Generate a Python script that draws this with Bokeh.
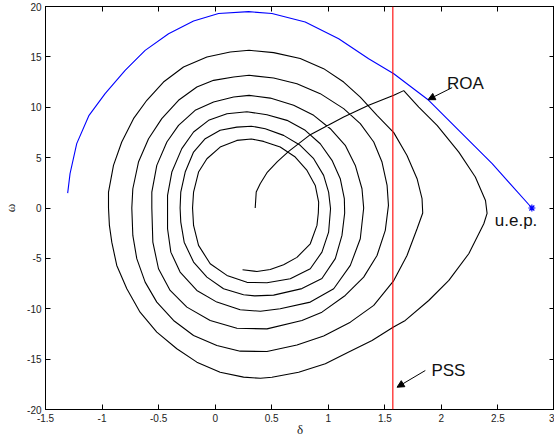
import numpy as np
from bokeh.plotting import figure
from bokeh.models import (Range1d, LinearAxis, Span, Arrow, NormalHead, Label,
                          FixedTicker, ColumnDataSource)
from bokeh.embed import file_html
from bokeh.resources import INLINE

# ---------------- data ----------------
x_ticks = [-1.5, -1, -0.5, 0, 0.5, 1, 1.5, 2, 2.5, 3]
x_tick_labels = ["-1.5", "-1", "-0.5", "0", "0.5", "1", "1.5", "2", "2.5", "3"]
y_ticks = [-20, -15, -10, -5, 0, 5, 10, 15, 20]
y_tick_labels = ["-20", "-15", "-10", "-5", "0", "5", "10", "15", "20"]

# region-of-attraction boundary (blue), ending at the u.e.p.
roa_delta = [-1.304, -1.283, -1.224, -1.115, -0.973, -0.796, -0.619, -0.412, -0.191,
             0.030, 0.296, 0.502, 0.796, 1.092, 1.357, 1.579, 1.888, 2.154, 2.449, 2.80]
roa_omega = [1.48, 3.41, 6.39, 9.2, 11.35, 13.66, 15.65, 17.3, 18.56,
             19.3, 19.49, 19.3, 18.46, 16.8, 14.82, 13.33, 10.69, 7.7, 4.4, 0.0]
uep_delta = [2.80]
uep_omega = [0.0]

# PSS switching line
pss_delta = 1.5708

# trajectory (black), one list of (delta, omega) per turn
start_turn = [(0.354, 0.0), (0.363, 1.58), (0.398, 2.4), (0.458, 3.5), (0.55, 4.6),
              (0.65, 5.62), (0.841, 7.28), (1.136, 9.03), (1.357, 10.19), (1.579, 11.18),
              (1.667, 11.65)]
turn1 = [(1.80, 10.02), (1.962, 8.2), (2.154, 5.55), (2.30, 3.07), (2.39, 0.75),
         (2.404, -0.54), (2.375, -1.56), (2.242, -4.54), (2.066, -7.19), (1.888, -9.18),
         (1.681, -11.16), (1.573, -11.83), (1.387, -13.15), (1.181, -14.3), (0.974, -15.46),
         (0.738, -16.3), (0.502, -16.8), (0.40, -16.9), (0.251, -16.79), (0.044, -16.30),
         (-0.162, -15.30), (-0.339, -13.97), (-0.516, -12.32), (-0.664, -10.34),
         (-0.781, -8.02), (-0.87, -5.70), (-0.914, -3.39), (-0.935, -1.73), (-0.943, 0.0),
         (-0.943, 1.58), (-0.899, 4.23), (-0.826, 6.55), (-0.722, 8.87), (-0.604, 10.69),
         (-0.457, 12.50), (-0.280, 14.0), (-0.073, 14.99), (0.133, 15.48), (0.30, 15.65)]
turn2 = [(0.517, 15.42), (0.752, 14.83), (0.959, 13.83), (1.136, 12.50), (1.283, 11.01),
         (1.431, 9.20), (1.579, 7.48), (1.696, 5.22), (1.785, 2.91), (1.829, 0.92),
         (1.835, -0.5), (1.785, -2.06), (1.696, -4.71), (1.579, -7.2), (1.402, -9.67),
         (1.195, -11.33), (0.959, -12.7), (0.723, -13.6), (0.458, -14.25), (0.221, -14.21),
         (0.015, -13.64), (-0.191, -12.65), (-0.368, -11.16), (-0.516, -9.34),
         (-0.619, -7.36), (-0.693, -5.03), (-0.728, -2.72), (-0.737, 0.0), (-0.728, 1.91),
         (-0.678, 4.56), (-0.589, 6.88), (-0.472, 8.87), (-0.324, 10.69), (-0.162, 12.01),
         (-0.014, 12.67), (0.163, 13.0), (0.30, 13.17)]
turn3 = [(0.517, 12.9), (0.723, 12.34), (0.929, 11.35), (1.136, 9.86), (1.283, 8.37),
         (1.402, 6.55), (1.475, 4.56), (1.52, 2.24), (1.532, 0.26), (1.504, -2.22),
         (1.431, -4.71), (1.313, -6.86), (1.15, -8.68), (0.944, -10.34), (0.767, -11.16),
         (0.458, -12.0), (0.192, -11.93), (-0.044, -11.16), (-0.25, -9.84), (-0.398, -8.18),
         (-0.501, -6.03), (-0.551, -3.39), (-0.56, 0.0), (-0.56, 1.58), (-0.516, 4.23),
         (-0.427, 6.55), (-0.324, 8.2), (-0.177, 9.69), (-0.014, 10.52), (0.163, 11.01),
         (0.30, 11.18)]
turn4 = [(0.487, 10.91), (0.694, 10.19), (0.871, 9.2), (1.018, 7.87), (1.15, 6.22),
         (1.239, 4.23), (1.298, 1.91), (1.313, 0.0), (1.283, -3.05), (1.195, -5.70),
         (1.048, -8.02), (0.841, -9.34), (0.575, -10.0), (0.40, -10.25), (0.221, -10.1),
         (0.015, -9.34), (-0.162, -8.18), (-0.310, -6.36), (-0.392, -4.38), (-0.421, -2.06),
         (-0.421, 0.0), (-0.421, 1.25), (-0.383, 3.57), (-0.295, 5.89), (-0.191, 7.54),
         (-0.058, 8.70), (0.104, 9.36), (0.281, 9.55)]
turn5 = [(0.458, 9.26), (0.635, 8.70), (0.796, 7.71), (0.929, 6.38), (1.033, 4.73),
         (1.106, 2.91), (1.142, 0.92), (1.145, -0.5), (1.121, -2.72), (1.062, -5.03),
         (0.944, -7.0), (0.767, -8.0), (0.517, -8.65), (0.35, -8.72), (0.251, -8.61),
         (0.074, -8.02), (-0.073, -6.86), (-0.191, -5.37), (-0.274, -3.39), (-0.304, -1.40),
         (-0.31, 0.0), (-0.304, 1.58), (-0.265, 3.57), (-0.191, 5.55), (-0.088, 6.88),
         (0.044, 7.71), (0.192, 8.03), (0.32, 8.12)]
turn6 = [(0.443, 7.87), (0.605, 7.21), (0.752, 6.22), (0.871, 4.89), (0.959, 3.24),
         (1.003, 1.58), (1.02, -0.07), (1.003, -2.39), (0.944, -4.38), (0.841, -6.03),
         (0.664, -7.02), (0.458, -7.42), (0.281, -7.38), (0.104, -6.69), (-0.044, -5.53),
         (-0.147, -3.71), (-0.191, -1.73), (-0.20, 0.0), (-0.191, 1.58), (-0.147, 3.57),
         (-0.073, 4.89), (0.044, 6.05), (0.192, 6.71), (0.32, 6.85)]
end_turn = [(0.428, 6.61), (0.575, 6.05), (0.708, 5.06), (0.812, 3.73), (0.885, 2.24),
            (0.915, 0.59), (0.912, -0.5), (0.90, -1.73), (0.841, -3.55), (0.723, -4.9),
            (0.605, -5.63), (0.487, -6.1), (0.369, -6.3), (0.242, -6.13)]

# annotations: (text, x, y) and arrows (x_start, y_start, x_end, y_end)
roa_label = ("ROA", 2.05, 12.4)
roa_arrow = (2.095, 11.95, 1.882, 10.75)
pss_label = ("PSS", 1.912, -16.13)
pss_arrow = (1.858, -16.13, 1.608, -17.79)
uep_label = ("u.e.p.", 2.472, -1.23)
x_title = "δ"
y_title = "ω"

# ---------------- figure ----------------
turns = [start_turn, turn1, turn2, turn3, turn4, turn5, turn6, end_turn]
traj = [pt for t in turns for pt in t]
traj_src = ColumnDataSource(dict(delta=[a for a, b in traj], omega=[b for a, b in traj]))
roa_src = ColumnDataSource(dict(delta=roa_delta, omega=roa_omega))

p = figure(width=554, height=439, x_range=Range1d(-1.5, 3), y_range=Range1d(-20, 20),
           output_backend="svg", toolbar_location=None,
           min_border_left=36, min_border_right=0, min_border_top=6, min_border_bottom=0)
p.background_fill_color = "white"
p.border_fill_color = "white"
p.outline_line_color = "black"
p.outline_line_width = 1
p.grid.visible = False

TICK_FONT = "Liberation Sans"
for ax in (p.xaxis[0], p.yaxis[0]):
    ax.major_tick_in = 5
    ax.major_tick_out = 0
    ax.minor_tick_line_color = None
    ax.major_label_text_font = TICK_FONT
    ax.major_label_text_font_size = "10px"
    ax.major_label_text_color = "#222222"
    ax.axis_line_color = "black"
    ax.major_tick_line_color = "black"
    ax.axis_label_text_font = "Liberation Serif"
    ax.axis_label_text_font_style = "normal"
    ax.axis_label_text_font_size = "13px"
    ax.axis_label_text_color = "#222222"

p.xaxis[0].ticker = FixedTicker(ticks=x_ticks)
p.xaxis[0].major_label_overrides = dict(zip(x_ticks, x_tick_labels))
p.yaxis[0].ticker = FixedTicker(ticks=y_ticks)
p.yaxis[0].major_label_overrides = dict(zip(y_ticks, y_tick_labels))
p.xaxis[0].axis_label = x_title
p.yaxis[0].axis_label = y_title
p.xaxis[0].major_label_standoff = 4
p.yaxis[0].major_label_standoff = 4
p.xaxis[0].axis_label_standoff = -3
p.yaxis[0].axis_label_standoff = 6

# box axes (tick marks only) on top and right
top = LinearAxis(ticker=FixedTicker(ticks=x_ticks), major_tick_in=5, major_tick_out=0,
                 minor_tick_line_color=None, major_label_text_font_size="1px",
                 major_label_text_color=None, major_label_standoff=0,
                 axis_label_standoff=0)
right = LinearAxis(ticker=FixedTicker(ticks=y_ticks), major_tick_in=5, major_tick_out=0,
                   minor_tick_line_color=None, major_label_text_font_size="1px",
                   major_label_text_color=None, major_label_standoff=0,
                   axis_label_standoff=0)
p.add_layout(top, "above")
p.add_layout(right, "right")

# trajectory
p.line("delta", "omega", source=traj_src, line_color="black", line_width=1.1)
# ROA boundary
p.line("delta", "omega", source=roa_src, line_color="#0000ff", line_width=1.1)
p.scatter(uep_delta, uep_omega, marker="asterisk", size=7, line_color="#0000ff",
          line_width=1.2)
# PSS line
p.add_layout(Span(location=pss_delta, dimension="height", line_color="#ff0000",
                  line_width=1.1))

# labels
for txt, lx, ly in (roa_label, pss_label, uep_label):
    p.add_layout(Label(x=lx, y=ly, text=txt, text_font="Liberation Sans",
                       text_font_size="17px", text_color="#111111",
                       text_baseline="alphabetic", text_align="left"))
for xs, ys, xe, ye in (roa_arrow, pss_arrow):
    p.add_layout(Arrow(end=NormalHead(size=7, fill_color="black", line_color="black"),
                       x_start=xs, y_start=ys, x_end=xe, y_end=ye,
                       line_color="black", line_width=1))

open("out.html", "w").write(file_html(p, INLINE))
